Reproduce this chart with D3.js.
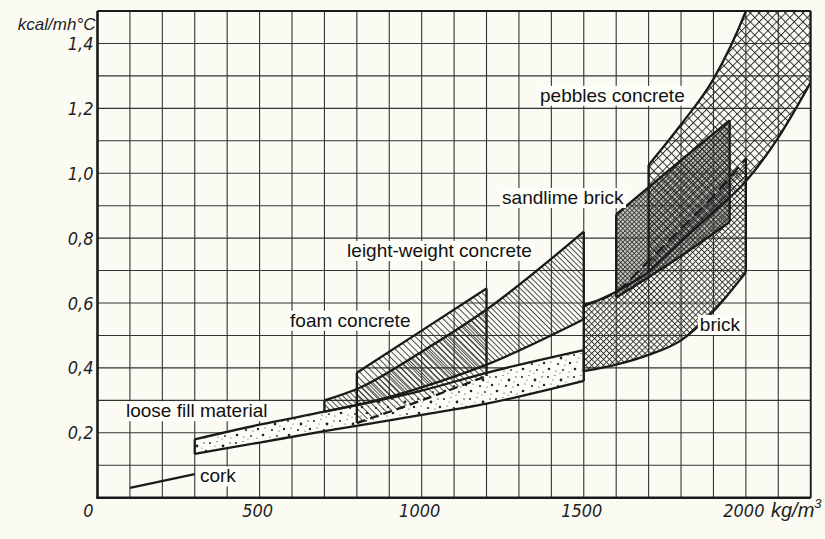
<!DOCTYPE html>
<html>
<head>
<meta charset="utf-8">
<script src="https://cdn.jsdelivr.net/npm/d3@7/dist/d3.min.js"></script>
<style>
  body { margin: 0; background: #fcfbf3; }
  svg { display: block; }
  .tick-label { font-family: "Liberation Sans Narrow", "DejaVu Sans Condensed", sans-serif; font-style: italic; font-size: 18px; fill: #1e1e1e; }
  .unit { font-family: "Liberation Sans", Arial, sans-serif; font-style: italic; fill: #1e1e1e; }
  .note { font-family: "Liberation Sans", Arial, sans-serif; font-size: 19px; fill: #111; }
</style>
</head>
<body>
<div id="chart"></div>
<script>
// density in kg/m3, thermal conductivity in kcal/mh°C
const xTicks = [0, 500, 1000, 1500, 2000];
const yTicks = [0.2, 0.4, 0.6, 0.8, 1.0, 1.2, 1.4];
const yTickLabels = ['0,2', '0,4', '0,6', '0,8', '1,0', '1,2', '1,4'];

const corkDensity = [100, 300];
const corkValue = [0.03, 0.073];

const looseDensity = [300, 500, 700, 1000, 1200, 1500];
const looseUpper = [0.18, 0.225, 0.265, 0.33, 0.385, 0.455];
const looseLower = [0.135, 0.17, 0.205, 0.255, 0.29, 0.36];

const lightDensity = [700, 800, 1000, 1200, 1500];
const lightUpper = [0.30, 0.335, 0.45, 0.58, 0.82];
const lightLower = [0.265, 0.285, 0.34, 0.41, 0.55];

const foamDensity = [800, 1000, 1200];
const foamUpper = [0.385, 0.515, 0.645];
const foamLower = [0.23, 0.30, 0.375];

const brickDensity = [1500, 1600, 1700, 1800, 1900, 2000];
const brickUpper = [0.595, 0.635, 0.73, 0.83, 0.93, 1.045];
const brickLower = [0.39, 0.41, 0.44, 0.485, 0.575, 0.695];

const sandDensity = [1600, 1800, 1950];
const sandUpper = [0.873, 1.04, 1.163];
const sandLower = [0.617, 0.745, 0.85];

const pebbleDensity = [1700, 1800, 1900, 2000, 2100, 2200];
const pebbleUpper = [1.025, 1.15, 1.29, 1.5, 1.8, 2.1];
const pebbleLower = [0.695, 0.79, 0.88, 0.975, 1.11, 1.28];
// lower edge of the pebbles band runs on down to 1500 as the top of brick
const pebbleEdgeDensity = [1500, 1600, 1700];
const pebbleEdgeValue = [0.59, 0.635, 0.695];

const notes = ['pebbles concrete', 'sandlime brick', 'leight-weight concrete', 'foam concrete', 'brick', 'loose fill material', 'cork'];
const noteDensity = [1365, 1248, 770, 594, 1858, 88, 316];
const noteValue = [1.22, 0.905, 0.742, 0.527, 0.514, 0.248, 0.047];

const width = 825, height = 539;
const x = d3.scaleLinear().domain([0, 2200]).range([97.5, 810.7]);
const y = d3.scaleLinear().domain([0, 1.5]).range([497.7, 11]);

const svg = d3.select('#chart').append('svg')
    .attr('width', width)
    .attr('height', height);

svg.append('rect').attr('width', width).attr('height', height).attr('fill', '#fcfbf3');

const defs = svg.append('defs');
defs.append('clipPath').attr('id', 'plot')
    .append('rect')
    .attr('x', x(0)).attr('y', y(1.5))
    .attr('width', x(2200) - x(0)).attr('height', y(0) - y(1.5));

// line patterns, rotated so the strokes run diagonally
function hatch(id, size, stroke, cross, bg) {
    const p = defs.append('pattern')
        .attr('id', id)
        .attr('patternUnits', 'userSpaceOnUse')
        .attr('width', size).attr('height', size)
        .attr('patternTransform', 'rotate(-45)');
    if (bg) p.append('rect').attr('width', size).attr('height', size).attr('fill', bg);
    p.append('line')
        .attr('x1', 0.5).attr('y1', 0).attr('x2', 0.5).attr('y2', size)
        .attr('stroke', '#222').attr('stroke-width', stroke);
    if (cross) {
        p.append('line')
            .attr('x1', 0).attr('y1', 0.5).attr('x2', size).attr('y2', 0.5)
            .attr('stroke', '#222').attr('stroke-width', stroke);
    }
}
hatch('foam', 4.6, 0.8, false);
hatch('light', 3.8, 0.8, false);
hatch('brick', 4.2, 0.85, true);
hatch('pebble', 6.2, 0.9, true);
hatch('sand', 3.2, 0.75, true, 'rgba(140,140,135,0.45)');

// stipple for loose fill
const stip = defs.append('pattern')
    .attr('id', 'stipple')
    .attr('patternUnits', 'userSpaceOnUse')
    .attr('width', 26).attr('height', 22);
stip.append('rect').attr('width', 26).attr('height', 22).attr('fill', '#fdfdf7');
[[2, 3, 1.0], [9, 1.5, 0.6], [15, 6, 1.4], [22, 3, 0.7], [5, 10, 0.6], [12, 12, 1.1],
 [19, 13, 0.6], [24, 11, 1.2], [3, 17, 1.3], [10, 19, 0.6], [17, 18, 0.9], [23, 20, 0.6],
 [7, 6, 0.5], [20, 8, 0.5], [14, 21, 0.5]].forEach(([cx, cy, r]) => {
    stip.append('circle').attr('cx', cx).attr('cy', cy).attr('r', r).attr('fill', '#222');
});

// grid
const grid = svg.append('g').attr('stroke', '#333').attr('stroke-width', 1.1);
grid.selectAll('line.v')
    .data(x.ticks(22))
    .enter().append('line')
    .attr('x1', d => x(d)).attr('x2', d => x(d))
    .attr('y1', y(1.5)).attr('y2', y(0));
grid.selectAll('line.h')
    .data(y.ticks(15))
    .enter().append('line')
    .attr('x1', x(0)).attr('x2', x(2200))
    .attr('y1', d => y(d)).attr('y2', d => y(d));

const plot = svg.append('g').attr('clip-path', 'url(#plot)');

const rowsOf = (dens, hi, lo) => dens.map((d, i) => ({d, hi: hi[i], lo: lo ? lo[i] : null}));
const area = d3.area()
    .x(r => x(r.d)).y0(r => y(r.lo)).y1(r => y(r.hi))
    .curve(d3.curveMonotoneX);
const upperLine = d3.line().x(r => x(r.d)).y(r => y(r.hi)).curve(d3.curveMonotoneX);
const lowerLine = d3.line().x(r => x(r.d)).y(r => y(r.lo)).curve(d3.curveMonotoneX);

function band(rows, fill) {
    plot.append('path').datum(rows).attr('d', area).attr('fill', fill);
    return rows;
}

function outline(rows, opts = {}) {
    const g = plot.append('g')
        .attr('fill', 'none').attr('stroke', '#1a1a1a')
        .attr('stroke-width', 2.3).attr('stroke-linejoin', 'round');
    g.append('path').datum(rows).attr('d', upperLine)
        .attr('stroke-dasharray', opts.upperDash || null);
    g.append('path').datum(rows).attr('d', lowerLine)
        .attr('stroke-dasharray', opts.lowerDash || null);
    const ends = [rows[0], rows[rows.length - 1]];
    g.selectAll('line').data(ends).enter().append('line')
        .attr('x1', r => x(r.d)).attr('x2', r => x(r.d))
        .attr('y1', r => y(r.lo)).attr('y2', r => y(r.hi));
}

const loose = band(rowsOf(looseDensity, looseUpper, looseLower), 'url(#stipple)');
const light = band(rowsOf(lightDensity, lightUpper, lightLower), 'url(#light)');
const foam = band(rowsOf(foamDensity, foamUpper, foamLower), 'url(#foam)');
const brick = band(rowsOf(brickDensity, brickUpper, brickLower), 'url(#brick)');
const sand = band(rowsOf(sandDensity, sandUpper, sandLower), 'url(#sand)');
const pebble = band(rowsOf(pebbleDensity, pebbleUpper, pebbleLower), 'url(#pebble)');

outline(loose);
outline(light);
outline(foam, {lowerDash: '9 5'});
outline(brick, {upperDash: '12 6'});
outline(sand);
outline(pebble);

plot.append('path')
    .datum(rowsOf(pebbleEdgeDensity, pebbleEdgeValue))
    .attr('d', upperLine)
    .attr('fill', 'none').attr('stroke', '#1a1a1a').attr('stroke-width', 2.3);

// cork is only a line
plot.append('path')
    .datum(rowsOf(corkDensity, corkValue))
    .attr('d', upperLine)
    .attr('fill', 'none').attr('stroke', '#1a1a1a').attr('stroke-width', 2.3);

// frame
const frame = svg.append('g').attr('stroke', '#1a1a1a').attr('fill', 'none');
frame.append('line').attr('x1', x(0)).attr('x2', x(0)).attr('y1', y(1.5)).attr('y2', y(0) + 1).attr('stroke-width', 2.6);
frame.append('line').attr('x1', x(0) - 1).attr('x2', x(2200)).attr('y1', y(0)).attr('y2', y(0)).attr('stroke-width', 2.6);
frame.append('line').attr('x1', x(0)).attr('x2', x(2200)).attr('y1', y(1.5)).attr('y2', y(1.5)).attr('stroke-width', 1.8);
frame.append('line').attr('x1', x(2200)).attr('x2', x(2200)).attr('y1', y(1.5)).attr('y2', y(0)).attr('stroke-width', 1.8);

// axis labels
svg.append('g').selectAll('text')
    .data(xTicks)
    .enter().append('text')
    .attr('class', 'tick-label')
    .attr('x', d => d === 0 ? x(d) - 9 : x(d) - 2)
    .attr('y', y(0) + 19)
    .attr('text-anchor', 'middle')
    .text(d => d);

svg.append('g').selectAll('text')
    .data(yTicks)
    .enter().append('text')
    .attr('class', 'tick-label')
    .attr('x', x(0) - 4)
    .attr('y', d => y(d))
    .attr('dy', '0.36em')
    .attr('text-anchor', 'end')
    .text((d, i) => yTickLabels[i]);

svg.append('text')
    .attr('class', 'unit')
    .attr('x', x(0) - 2)
    .attr('y', 30)
    .attr('text-anchor', 'end')
    .style('font-size', '17px')
    .text('kcal/mh°C');

const kg = svg.append('text')
    .attr('class', 'unit')
    .attr('x', 771)
    .attr('y', y(0) + 19)
    .style('font-size', '20px')
    .text('kg/m');
kg.append('tspan').attr('dy', -9).style('font-size', '13px').text('3');

// annotations with a paper coloured box behind them
const noteG = svg.append('g');
notes.forEach((t, i) => {
    const g = noteG.append('g');
    const box = g.append('rect').attr('fill', '#fefef9');
    const txt = g.append('text')
        .attr('class', 'note')
        .attr('x', x(noteDensity[i]))
        .attr('y', y(noteValue[i]))
        .text(t);
    const b = txt.node().getBBox();
    box.attr('x', b.x - 2).attr('y', b.y + 1).attr('width', b.width + 4).attr('height', b.height - 1);
});
</script>
</body>
</html>
